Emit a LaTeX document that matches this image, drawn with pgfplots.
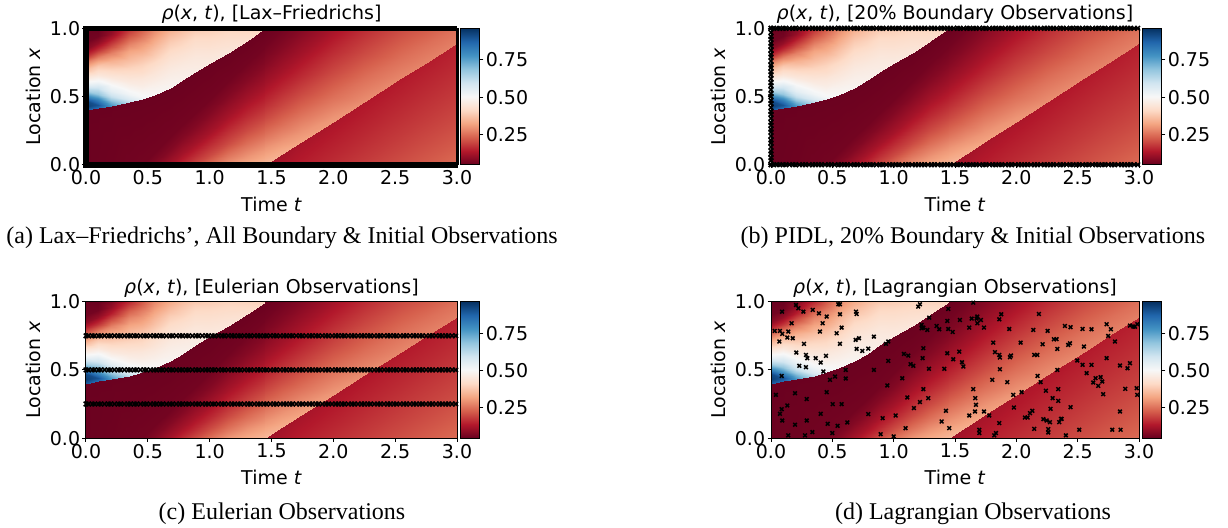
\documentclass[border=0pt]{standalone}
\usepackage{fontspec}
\setmainfont{DejaVu Sans}
\newfontfamily\capfont{Liberation Serif}
\usepackage{pgfplots}
\usepackage{pgfplotstable}
\pgfplotsset{compat=1.18}

\newcommand\fs{\fontsize{9.5}{11.4}\selectfont}
\newcommand\capfs{\capfont\fontsize{12}{14}\selectfont}

\pgfplotsset{colormap={rdbu}{rgb255=(103,0,31) rgb255=(178,24,43) rgb255=(214,96,77)
  rgb255=(244,165,130) rgb255=(253,219,199) rgb255=(247,247,247) rgb255=(209,229,240)
  rgb255=(146,197,222) rgb255=(67,147,195) rgb255=(33,102,172) rgb255=(5,48,97)}}

% density field, split along the shock: above shock (t<1.45)
\pgfplotstableread{
t x r
0 0.400 0.88
0 0.430 0.94
0 0.470 0.92
0 0.500 0.82
0 0.550 0.64
0 0.600 0.52
0 0.650 0.44
0 0.700 0.36
0 0.750 0.27
0 0.800 0.17
0 0.850 0.09
0 0.900 0.06
0 1.000 0.05
0.1 0.415 0.86
0.1 0.440 0.90
0.1 0.480 0.80
0.1 0.520 0.68
0.1 0.560 0.60
0.1 0.610 0.52
0.1 0.660 0.45
0.1 0.720 0.38
0.1 0.780 0.28
0.1 0.840 0.17
0.1 0.890 0.10
0.1 0.940 0.06
0.1 1.000 0.05
0.2 0.430 0.78
0.2 0.460 0.72
0.2 0.500 0.62
0.2 0.540 0.55
0.2 0.590 0.50
0.2 0.640 0.45
0.2 0.700 0.40
0.2 0.760 0.34
0.2 0.820 0.27
0.2 0.870 0.20
0.2 0.920 0.14
0.2 0.960 0.10
0.2 1.000 0.08
0.35 0.457 0.62
0.35 0.480 0.57
0.35 0.520 0.52
0.35 0.560 0.49
0.35 0.610 0.46
0.35 0.660 0.43
0.35 0.710 0.40
0.35 0.770 0.36
0.35 0.830 0.32
0.35 0.880 0.28
0.35 0.930 0.23
0.35 0.970 0.19
0.35 1.000 0.16
0.45 0.481 0.53
0.45 0.500 0.51
0.45 0.540 0.49
0.45 0.580 0.47
0.45 0.630 0.45
0.45 0.680 0.42
0.45 0.730 0.40
0.45 0.780 0.37
0.45 0.840 0.33
0.45 0.890 0.30
0.45 0.930 0.27
0.45 0.970 0.24
0.45 1.000 0.22
0.55 0.512 0.50
0.55 0.550 0.49
0.55 0.590 0.475
0.55 0.630 0.46
0.55 0.670 0.445
0.55 0.710 0.43
0.55 0.750 0.41
0.55 0.790 0.39
0.55 0.830 0.37
0.55 0.870 0.35
0.55 0.910 0.33
0.55 0.960 0.30
0.55 1.000 0.28
0.68 0.566 0.49
0.68 0.602 0.483
0.68 0.638 0.475
0.68 0.675 0.466
0.68 0.711 0.456
0.68 0.747 0.445
0.68 0.783 0.433
0.68 0.819 0.42
0.68 0.855 0.405
0.68 0.892 0.39
0.68 0.928 0.372
0.68 0.964 0.352
0.68 1.000 0.33
0.78 0.619 0.48
0.78 0.651 0.475
0.78 0.683 0.469
0.78 0.714 0.462
0.78 0.746 0.454
0.78 0.778 0.445
0.78 0.810 0.435
0.78 0.841 0.424
0.78 0.873 0.412
0.78 0.905 0.40
0.78 0.937 0.387
0.78 0.968 0.374
0.78 1.000 0.36
0.88 0.679 0.47
0.88 0.706 0.466
0.88 0.733 0.462
0.88 0.759 0.457
0.88 0.786 0.452
0.88 0.813 0.446
0.88 0.840 0.439
0.88 0.866 0.432
0.88 0.893 0.424
0.88 0.920 0.416
0.88 0.947 0.407
0.88 0.973 0.394
0.88 1.000 0.38
1.0 0.745 0.46
1.0 0.766 0.456
1.0 0.788 0.451
1.0 0.809 0.446
1.0 0.830 0.441
1.0 0.851 0.436
1.0 0.873 0.43
1.0 0.894 0.424
1.0 0.915 0.418
1.0 0.936 0.411
1.0 0.958 0.404
1.0 0.979 0.397
1.0 1.000 0.39
1.15 0.822 0.45
1.15 0.837 0.446
1.15 0.852 0.442
1.15 0.866 0.438
1.15 0.881 0.434
1.15 0.896 0.43
1.15 0.911 0.426
1.15 0.926 0.422
1.15 0.941 0.418
1.15 0.956 0.414
1.15 0.970 0.41
1.15 0.985 0.405
1.15 1.000 0.40
1.3 0.910 0.43
1.3 0.9175 0.428
1.3 0.925 0.425
1.3 0.9325 0.423
1.3 0.940 0.42
1.3 0.9475 0.418
1.3 0.955 0.415
1.3 0.9625 0.413
1.3 0.970 0.41
1.3 0.9775 0.408
1.3 0.985 0.405
1.3 0.9925 0.403
1.3 1.000 0.40
1.45 1.0 0.40
1.45 1.0 0.40
1.45 1.0 0.40
1.45 1.0 0.40
1.45 1.0 0.40
1.45 1.0 0.40
1.45 1.0 0.40
1.45 1.0 0.40
1.45 1.0 0.40
1.45 1.0 0.40
1.45 1.0 0.40
1.45 1.0 0.40
1.45 1.0 0.40
}\regU

% below the shock (t<1.46)
\pgfplotstableread{
t x r
0 0 0.05
0 0 0.05
0 0 0.05
0 0 0.05
0 0 0.05
0 0 0.05
0 0 0.05
0 0 0.05
0 0 0.05
0 0 0.05
0 0.405 0.05
0.1 0 0.052
0.1 0 0.052
0.1 0 0.052
0.1 0 0.052
0.1 0 0.052
0.1 0 0.052
0.1 0 0.052
0.1 0 0.052
0.1 0 0.052
0.1 0 0.052
0.1 0.420 0.05
0.2 0 0.054
0.2 0 0.054
0.2 0 0.054
0.2 0 0.054
0.2 0 0.054
0.2 0 0.054
0.2 0 0.054
0.2 0 0.054
0.2 0 0.054
0.2 0 0.054
0.2 0.435 0.05
0.35 0 0.058
0.35 0 0.058
0.35 0 0.058
0.35 0 0.058
0.35 0 0.058
0.35 0 0.058
0.35 0 0.058
0.35 0 0.058
0.35 0 0.058
0.35 0 0.058
0.35 0.462 0.05
0.45 0 0.06
0.45 0 0.06
0.45 0 0.06
0.45 0 0.06
0.45 0 0.06
0.45 0 0.06
0.45 0 0.06
0.45 0 0.06
0.45 0 0.06
0.45 0 0.06
0.45 0.486 0.05
0.55 0 0.08
0.55 0 0.08
0.55 0 0.08
0.55 0 0.08
0.55 0 0.08
0.55 0 0.08
0.55 0 0.08
0.55 0 0.08
0.55 0 0.08
0.55 0.088 0.06
0.55 0.517 0.05
0.68 0 0.12
0.68 0 0.12
0.68 0 0.12
0.68 0 0.12
0.68 0 0.12
0.68 0 0.12
0.68 0 0.12
0.68 0 0.12
0.68 0.109 0.08
0.68 0.202 0.06
0.68 0.571 0.05
0.78 0 0.16
0.78 0 0.16
0.78 0 0.16
0.78 0 0.16
0.78 0 0.16
0.78 0 0.16
0.78 0 0.16
0.78 0.076 0.12
0.78 0.193 0.08
0.78 0.290 0.06
0.78 0.624 0.05
0.88 0 0.20
0.88 0 0.20
0.88 0 0.20
0.88 0 0.20
0.88 0 0.20
0.88 0 0.20
0.88 0.068 0.16
0.88 0.152 0.12
0.88 0.277 0.08
0.88 0.378 0.06
0.88 0.684 0.05
1.0 0 0.25
1.0 0 0.25
1.0 0 0.25
1.0 0 0.25
1.0 0 0.25
1.0 0.072 0.20
1.0 0.150 0.16
1.0 0.243 0.12
1.0 0.378 0.08
1.0 0.484 0.06
1.0 0.750 0.05
1.15 0 0.30
1.15 0 0.30
1.15 0 0.30
1.15 0 0.30
1.15 0.075 0.25
1.15 0.162 0.20
1.15 0.252 0.16
1.15 0.357 0.12
1.15 0.504 0.08
1.15 0.616 0.06
1.15 0.827 0.05
1.3 0 0.33
1.3 0 0.33
1.3 0 0.33
1.3 0.060 0.30
1.3 0.150 0.25
1.3 0.252 0.20
1.3 0.354 0.16
1.3 0.471 0.12
1.3 0.630 0.08
1.3 0.748 0.06
1.3 0.915 0.05
1.46 0 0.355
1.46 0.009 0.35
1.46 0.051 0.33
1.46 0.120 0.30
1.46 0.225 0.25
1.46 0.342 0.20
1.46 0.456 0.16
1.46 0.585 0.12
1.46 0.756 0.08
1.46 0.880 0.06
1.46 1.000 0.05
}\regL

% below the re-entered shock (t>1.45)
\pgfplotstableread{
t x r
1.45 0 0.11
1.45 0 0.11
1.45 0 0.11
1.45 0 0.11
1.45 0 0.11
1.45 0 0.11
1.45 0 0.11
1.45 0.005 0.11
1.7 0 0.14
1.7 0 0.14
1.7 0 0.14
1.7 0 0.14
1.7 0 0.14
1.7 0 0.14
1.7 0 0.14
1.7 0.149 0.122
1.95 0 0.16
1.95 0 0.16
1.95 0 0.16
1.95 0 0.16
1.95 0 0.16
1.95 0 0.16
1.95 0.180 0.14
1.95 0.293 0.127
2.2 0 0.18
2.2 0 0.18
2.2 0 0.18
2.2 0 0.18
2.2 0 0.18
2.2 0.170 0.16
2.2 0.360 0.14
2.2 0.436 0.132
2.45 0 0.20
2.45 0 0.20
2.45 0 0.20
2.45 0 0.20
2.45 0.160 0.18
2.45 0.340 0.16
2.45 0.540 0.14
2.45 0.580 0.136
2.7 0 0.22
2.7 0 0.22
2.7 0 0.22
2.7 0.150 0.20
2.7 0.320 0.18
2.7 0.510 0.16
2.7 0.719 0.14
2.7 0.724 0.14
3.0 0 0.245
3.0 0.026 0.24
3.0 0.168 0.22
3.0 0.330 0.20
3.0 0.512 0.18
3.0 0.714 0.16
3.0 0.891 0.144
3.0 0.896 0.144
}\regLL

% above the re-entered shock (t>1.45)
\pgfplotstableread{
t x r
1.45 0 0.355
1.45 0.009 0.35
1.45 0.051 0.33
1.45 0.120 0.30
1.45 0.225 0.25
1.45 0.342 0.20
1.45 0.456 0.16
1.45 0.585 0.12
1.45 0.756 0.08
1.45 0.880 0.06
1.45 1.000 0.05
1.586 0.078 0.335
1.586 0.078 0.335
1.586 0.097 0.33
1.586 0.174 0.30
1.586 0.293 0.25
1.586 0.424 0.20
1.586 0.548 0.16
1.586 0.689 0.12
1.586 0.870 0.08
1.586 1.000 0.06
1.586 1.000 0.06
1.74 0.167 0.32
1.74 0.167 0.32
1.74 0.167 0.32
1.74 0.236 0.30
1.74 0.370 0.25
1.74 0.516 0.20
1.74 0.653 0.16
1.74 0.806 0.12
1.74 1.000 0.08
1.74 1.000 0.08
1.74 1.000 0.08
2.0 0.316 0.305
2.0 0.316 0.305
2.0 0.316 0.305
2.0 0.340 0.30
2.0 0.500 0.25
2.0 0.672 0.20
2.0 0.830 0.16
2.0 1.000 0.12
2.0 1.000 0.12
2.0 1.000 0.12
2.0 1.000 0.12
2.25 0.460 0.29
2.25 0.460 0.29
2.25 0.460 0.29
2.25 0.460 0.29
2.25 0.625 0.25
2.25 0.822 0.20
2.25 1.000 0.16
2.25 1.000 0.16
2.25 1.000 0.16
2.25 1.000 0.16
2.25 1.000 0.16
2.55 0.633 0.28
2.55 0.633 0.28
2.55 0.633 0.28
2.55 0.633 0.28
2.55 0.775 0.25
2.55 1.000 0.20
2.55 1.000 0.20
2.55 1.000 0.20
2.55 1.000 0.20
2.55 1.000 0.20
2.55 1.000 0.20
2.75 0.748 0.275
2.75 0.748 0.275
2.75 0.748 0.275
2.75 0.748 0.275
2.75 0.875 0.25
2.75 1.000 0.22
2.75 1.000 0.22
2.75 1.000 0.22
2.75 1.000 0.22
2.75 1.000 0.22
2.75 1.000 0.22
3.0 0.891 0.27
3.0 0.891 0.27
3.0 0.891 0.27
3.0 0.891 0.27
3.0 1.000 0.25
3.0 1.000 0.25
3.0 1.000 0.25
3.0 1.000 0.25
3.0 1.000 0.25
3.0 1.000 0.25
3.0 1.000 0.25
}\regUU

% observation times on the boundaries (lo, hi) and at the three sensors
\pgfplotstableread{
t lo hi s1 s2 s3
0.00 0 1 0.25 0.5 0.75
0.02 0 1 0.25 0.5 0.75
0.05 0 1 0.25 0.5 0.75
0.07 0 1 0.25 0.5 0.75
0.10 0 1 0.25 0.5 0.75
0.12 0 1 0.25 0.5 0.75
0.15 0 1 0.25 0.5 0.75
0.18 0 1 0.25 0.5 0.75
0.20 0 1 0.25 0.5 0.75
0.23 0 1 0.25 0.5 0.75
0.26 0 1 0.25 0.5 0.75
0.28 0 1 0.25 0.5 0.75
0.31 0 1 0.25 0.5 0.75
0.34 0 1 0.25 0.5 0.75
0.36 0 1 0.25 0.5 0.75
0.39 0 1 0.25 0.5 0.75
0.41 0 1 0.25 0.5 0.75
0.44 0 1 0.25 0.5 0.75
0.47 0 1 0.25 0.5 0.75
0.49 0 1 0.25 0.5 0.75
0.52 0 1 0.25 0.5 0.75
0.55 0 1 0.25 0.5 0.75
0.57 0 1 0.25 0.5 0.75
0.60 0 1 0.25 0.5 0.75
0.62 0 1 0.25 0.5 0.75
0.65 0 1 0.25 0.5 0.75
0.68 0 1 0.25 0.5 0.75
0.70 0 1 0.25 0.5 0.75
0.73 0 1 0.25 0.5 0.75
0.76 0 1 0.25 0.5 0.75
0.78 0 1 0.25 0.5 0.75
0.81 0 1 0.25 0.5 0.75
0.83 0 1 0.25 0.5 0.75
0.86 0 1 0.25 0.5 0.75
0.89 0 1 0.25 0.5 0.75
0.91 0 1 0.25 0.5 0.75
0.94 0 1 0.25 0.5 0.75
0.97 0 1 0.25 0.5 0.75
0.99 0 1 0.25 0.5 0.75
1.02 0 1 0.25 0.5 0.75
1.04 0 1 0.25 0.5 0.75
1.07 0 1 0.25 0.5 0.75
1.10 0 1 0.25 0.5 0.75
1.12 0 1 0.25 0.5 0.75
1.15 0 1 0.25 0.5 0.75
1.18 0 1 0.25 0.5 0.75
1.20 0 1 0.25 0.5 0.75
1.23 0 1 0.25 0.5 0.75
1.25 0 1 0.25 0.5 0.75
1.28 0 1 0.25 0.5 0.75
1.31 0 1 0.25 0.5 0.75
1.33 0 1 0.25 0.5 0.75
1.36 0 1 0.25 0.5 0.75
1.39 0 1 0.25 0.5 0.75
1.41 0 1 0.25 0.5 0.75
1.44 0 1 0.25 0.5 0.75
1.46 0 1 0.25 0.5 0.75
1.49 0 1 0.25 0.5 0.75
1.52 0 1 0.25 0.5 0.75
1.54 0 1 0.25 0.5 0.75
1.57 0 1 0.25 0.5 0.75
1.60 0 1 0.25 0.5 0.75
1.62 0 1 0.25 0.5 0.75
1.65 0 1 0.25 0.5 0.75
1.67 0 1 0.25 0.5 0.75
1.70 0 1 0.25 0.5 0.75
1.73 0 1 0.25 0.5 0.75
1.75 0 1 0.25 0.5 0.75
1.78 0 1 0.25 0.5 0.75
1.81 0 1 0.25 0.5 0.75
1.83 0 1 0.25 0.5 0.75
1.86 0 1 0.25 0.5 0.75
1.88 0 1 0.25 0.5 0.75
1.91 0 1 0.25 0.5 0.75
1.94 0 1 0.25 0.5 0.75
1.96 0 1 0.25 0.5 0.75
1.99 0 1 0.25 0.5 0.75
2.02 0 1 0.25 0.5 0.75
2.04 0 1 0.25 0.5 0.75
2.07 0 1 0.25 0.5 0.75
2.09 0 1 0.25 0.5 0.75
2.12 0 1 0.25 0.5 0.75
2.15 0 1 0.25 0.5 0.75
2.17 0 1 0.25 0.5 0.75
2.20 0 1 0.25 0.5 0.75
2.23 0 1 0.25 0.5 0.75
2.25 0 1 0.25 0.5 0.75
2.28 0 1 0.25 0.5 0.75
2.30 0 1 0.25 0.5 0.75
2.33 0 1 0.25 0.5 0.75
2.36 0 1 0.25 0.5 0.75
2.38 0 1 0.25 0.5 0.75
2.41 0 1 0.25 0.5 0.75
2.44 0 1 0.25 0.5 0.75
2.46 0 1 0.25 0.5 0.75
2.49 0 1 0.25 0.5 0.75
2.51 0 1 0.25 0.5 0.75
2.54 0 1 0.25 0.5 0.75
2.57 0 1 0.25 0.5 0.75
2.59 0 1 0.25 0.5 0.75
2.62 0 1 0.25 0.5 0.75
2.65 0 1 0.25 0.5 0.75
2.67 0 1 0.25 0.5 0.75
2.70 0 1 0.25 0.5 0.75
2.72 0 1 0.25 0.5 0.75
2.75 0 1 0.25 0.5 0.75
2.78 0 1 0.25 0.5 0.75
2.80 0 1 0.25 0.5 0.75
2.83 0 1 0.25 0.5 0.75
2.86 0 1 0.25 0.5 0.75
2.88 0 1 0.25 0.5 0.75
2.91 0 1 0.25 0.5 0.75
2.93 0 1 0.25 0.5 0.75
2.96 0 1 0.25 0.5 0.75
2.99 0 1 0.25 0.5 0.75
}\tobs

% observations on the initial line t = 0
\pgfplotstableread{
t x
0 0.00
0 0.03
0 0.05
0 0.08
0 0.10
0 0.13
0 0.16
0 0.18
0 0.21
0 0.24
0 0.26
0 0.29
0 0.31
0 0.34
0 0.37
0 0.39
0 0.42
0 0.45
0 0.47
0 0.50
0 0.52
0 0.55
0 0.58
0 0.60
0 0.63
0 0.66
0 0.68
0 0.71
0 0.73
0 0.76
0 0.79
0 0.81
0 0.84
0 0.87
0 0.89
0 0.92
0 0.94
0 0.97
0 1.00
}\xobs

% Lagrangian (probe vehicle) observations
\pgfplotstableread{
t x
0.03 0.786
0.073 0.786
0.092 0.764
0.068 0.708
0.087 0.456
0.04 0.317
0.073 0.178
0.087 0.212
0.092 0.129
0.133 0.239
0.141 0.02
0.09 0.927
0.133 0.737
0.141 0.781
0.168 0.842
0.177 0.732
0.204 0.976
0.223 0.952
0.206 0.627
0.196 0.329
0.196 0.098
0.231 0.53
0.264 0.927
0.269 0.691
0.285 0.61
0.296 0.586
0.285 0.52
0.291 0.286
0.291 0.129
0.277 0.02
0.34 0.94
0.337 0.044
0.364 0.586
0.391 0.915
0.399 0.781
0.405 0.554
0.405 0.178
0.421 0.842
0.427 0.488
0.454 0.891
0.448 0.603
0.454 0.337
0.462 0.105
0.481 0.427
0.5 0.037
0.503 0.249
0.522 0.451
0.535 0.769
0.543 0.09
0.549 0.981
0.562 0.981
0.562 0.908
0.562 0.691
0.576 0.81
0.576 0.249
0.609 0.437
0.609 0.5
0.622 0.115
0.693 0.927
0.698 0.91
0.69 0.72
0.717 0.732
0.698 0.654
0.744 0.639
0.793 0.656
0.839 0.744
0.839 0.5
0.793 0.176
0.894 0.029
0.91 0.146
0.937 0.691
0.956 0.708
0.948 0.386
0.956 0.566
1.0 0.012
1.016 0.166
1.07 0.439
1.097 0.073
1.084 0.617
1.119 0.605
1.111 0.298
1.138 0.542
1.16 0.53
1.165 0.22
1.2 0.964
1.214 0.981
1.228 0.83
1.228 0.805
1.242 0.81
1.236 0.586
1.242 0.659
1.242 0.359
1.214 0.264
1.274 0.793
1.282 0.293
1.288 0.508
1.29 0.883
1.35 0.822
1.372 0.798
1.391 0.122
1.413 0.508
1.426 0.2
1.437 0.859
1.437 0.622
1.445 0.8
1.453 0.073
1.445 0.947
1.481 0.778
1.486 0.578
1.535 0.634
1.54 0.866
1.557 0.556
1.568 0.525
1.616 0.166
1.616 0.81
1.636 0.876
1.649 0.993
1.649 0.359
1.663 0.195
1.665 0.293
1.671 0.244
1.676 0.876
1.682 0.891
1.682 0.842
1.711 0.866
1.698 0.061
1.698 0.037
1.736 0.81
1.736 0.195
1.779 0.166
1.804 0.427
1.812 0.7
1.826 0.63
1.82 0.02
1.834 0.037
1.861 0.871
1.861 0.61
1.866 0.591
1.866 0.505
1.861 0.11
1.877 0.908
1.926 0.41
1.942 0.8
1.948 0.593
1.956 0.605
1.975 0.317
1.98 0.224
2.035 0.7
2.043 0.337
2.07 0.151
2.092 0.151
2.111 0.183
2.13 0.2
2.138 0.793
2.146 0.068
2.146 0.61
2.171 0.61
2.173 0.456
2.184 0.91
2.198 0.41
2.214 0.688
2.22 0.139
2.241 0.347
2.247 0.129
2.255 0.786
2.26 0.066
2.26 0.041
2.274 0.117
2.279 0.215
2.296 0.293
2.306 0.725
2.328 0.725
2.334 0.654
2.334 0.5
2.342 0.273
2.342 0.359
2.35 0.117
2.364 0.141
2.369 0.141
2.396 0.822
2.404 0.02
2.423 0.683
2.437 0.695
2.442 0.813
2.442 0.227
2.497 0.569
2.513 0.061
2.54 0.8
2.54 0.537
2.551 0.671
2.573 0.476
2.613 0.798
2.613 0.537
2.627 0.408
2.646 0.439
2.668 0.383
2.687 0.447
2.7 0.415
2.708 0.322
2.736 0.835
2.736 0.586
2.749 0.749
2.771 0.798
2.782 0.061
2.804 0.708
2.845 0.532
2.845 0.195
2.85 0.061
2.888 0.361
2.906 0.512
2.926 0.825
2.926 0.549
2.954 0.817
2.967 0.817
2.981 0.366
2.986 0.317
2.986 0.835
}\lagr

\pgfplotsset{
  colorbar shift/.style={xshift=1.7pt},
  panel/.style={
    scale only axis, height=68.2pt,
    xmin=0, xmax=3, ymin=0, ymax=1,
    axis on top, clip=false,
    xtick={0,0.5,1,1.5,2,2.5,3},
    xticklabels={0.0,0.5,1.0,1.5,2.0,2.5,3.0},
    ytick={0,0.5,1}, yticklabels={0.0,0.5,1.0},
    tick align=outside, major tick length=1.75pt,
    xtick pos=bottom, ytick pos=left,
    tick style={black, line width=0.5pt},
    axis line style={black, line width=0.5pt},
    tick label style={font=\fs, inner sep=1pt},
    label style={font=\fs},
    every axis title/.style={at={(0.5,1)}, anchor=base, yshift=4.2pt, font=\fs},
    xlabel={Time \textit{t}}, ylabel={Location \textit{x}},
    xlabel style={yshift=-1.5pt},
    colormap name=rdbu, point meta min=0.045, point meta max=0.963,
    colorbar,
    colorbar style={
      at={(parent axis.north east)}, anchor=north west,
      scale only axis, width=9.75pt, height=68.2pt,
      ytick={0.25,0.5,0.75}, yticklabels={0.25,0.50,0.75},
      yticklabel pos=right, ytick pos=right,
      tick align=outside, major tick length=1.75pt,
      tick style={black, line width=0.5pt},
      tick label style={font=\fs, inner sep=1pt},
      axis line style={black, line width=0.5pt},
    },
  },
  obs/.style={only marks, mark=x, mark size=1.3pt, black, mark options={line width=0.75pt}},
  band/.style={only marks, mark=x, mark size=1.6pt, black, mark options={line width=0.8pt}},
  fld/.style={surf, shader=interp, point meta=explicit, mesh/cols=#1},
}

\newcommand\drawfield{%
  \addplot[fld=11] table[x=t, y=x, meta=r] {\regL};
  \addplot[fld=13] table[x=t, y=x, meta=r] {\regU};
  \addplot[fld=8] table[x=t, y=x, meta=r] {\regLL};
  \addplot[fld=11] table[x=t, y=x, meta=r] {\regUU};
}

\begin{document}
\begin{tikzpicture}
\path[use as bounding box] (0,0) rectangle (614pt,263.5pt);

% (a)
\begin{axis}[panel, width=185.5pt, at={(43pt,249.35pt)}, anchor=north west,
  title={\textit{ρ}(\textit{x}, \textit{t}), [Lax–Friedrichs]}]
\drawfield
\addplot[black, line width=2.8pt, line join=miter] coordinates {(3,0) (0,0) (0,1) (3,1)};
\addplot[black, line width=1.5pt] coordinates {(3,0) (3,1)};
\end{axis}

% (b)
\begin{axis}[panel, width=184pt, at={(385.5pt,249.35pt)}, anchor=north west,
  title={\textit{ρ}(\textit{x}, \textit{t}), [20\% Boundary Observations]}]
\drawfield
\addplot[band] table[x=t, y=lo] {\tobs};
\addplot[band] table[x=t, y=hi] {\tobs};
\addplot[band] table[x=t, y=x] {\xobs};
\end{axis}

% (c)
\begin{axis}[panel, width=185.5pt, at={(43pt,112.65pt)}, anchor=north west,
  title={\textit{ρ}(\textit{x}, \textit{t}), [Eulerian Observations]}]
\drawfield
\addplot[band] table[x=t, y=s3] {\tobs};
\addplot[band] table[x=t, y=s2] {\tobs};
\addplot[band] table[x=t, y=s1] {\tobs};
\end{axis}

% (d)
\begin{axis}[panel, width=184pt, at={(385.5pt,112.65pt)}, anchor=north west,
  title={\textit{ρ}(\textit{x}, \textit{t}), [Lagrangian Observations]}]
\drawfield
\addplot[obs] table[x=t, y=x] {\lagr};
\end{axis}

\node[anchor=base, font=\capfs] at (141pt,142pt) {(a) Lax–Friedrichs’, All Boundary \& Initial Observations};
\node[anchor=base, font=\capfs] at (486.5pt,142pt) {(b) PIDL, 20\% Boundary \& Initial Observations};
\node[anchor=base, font=\capfs] at (141pt,4pt) {(c) Eulerian Observations};
\node[anchor=base, font=\capfs] at (486.5pt,4pt) {(d) Lagrangian Observations};
\end{tikzpicture}
\end{document}
